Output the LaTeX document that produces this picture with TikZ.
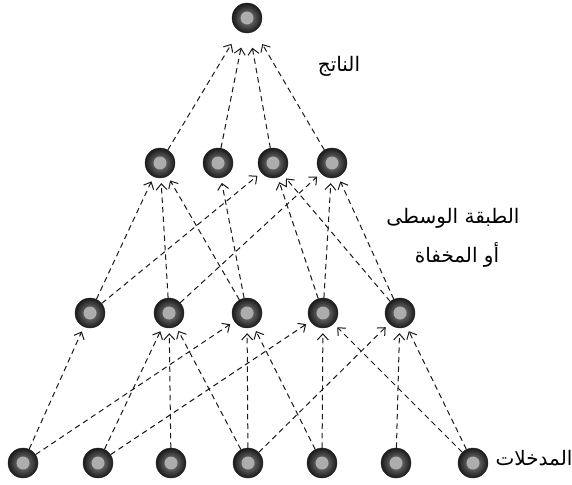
\documentclass[tikz,border=0pt]{standalone}
\usepackage{fontspec}
\newfontfamily\arabicfont[Script=Arabic]{DejaVu Sans}
\TeXXeTstate=1
\usetikzlibrary{arrows.meta}

\tikzset{
    neuron/.style={circle,minimum size=30pt,inner sep=0pt,draw=black!85,line width=0.4pt,
        inner color=black!45,outer color=black!90,
        path picture={\fill[black!32] (path picture bounding box.center) circle (6.5pt);}},
    link/.style={dash pattern=on 5.5pt off 4pt,line width=1pt,black!90,
        -{Straight Barb[length=6pt,width=11pt]},shorten >=5pt},
    lbl/.style={font=\arabicfont\fontsize{20}{24}\selectfont}
}

\begin{document}
\begin{tikzpicture}[x=1pt,y=-1pt]
\useasboundingbox (0,0) rectangle (572,484);
% output
\node [neuron] (out) at (247,18) {};
% hidden layer
\foreach \x [count=\i] in {160,218,273,332}
    \node [neuron] (hid\i) at (\x,163) {};
% middle layer
\foreach \x [count=\i] in {90,169,247,323,400}
    \node [neuron] (mid\i) at (\x,313) {};
% inputs
\foreach \x [count=\i] in {23,98,171,248,322,396,473}
    \node [neuron] (in\i) at (\x,463) {};
% inputs to middle
\foreach \a/\b in {1/1,1/3,2/2,2/4,3/2,4/2,4/3,4/5,5/3,5/4,6/5,7/4,7/5}
    \draw [link] (in\a) -- (mid\b);
% middle to hidden
\foreach \a/\b in {1/1,2/1,3/1,3/2,1/3,4/3,5/3,2/4,4/4,5/4}
    \draw [link] (mid\a) -- (hid\b);
% hidden to output
\foreach \a in {1,...,4}
    \draw [link,shorten >=15pt] (hid\a) -- (out);
% labels
\node [lbl] (outtext) at (339,66) {\beginR الناتج\endR};
\node [lbl] (midtext) at (453,218) {\beginR الطبقة الوسطى\endR};
\node [lbl] (midtext2) at (457,255) {\beginR أو المخفاة\endR};
\node [lbl] (intext) at (534,458) {\beginR المدخلات\endR};
\end{tikzpicture}
\end{document}
